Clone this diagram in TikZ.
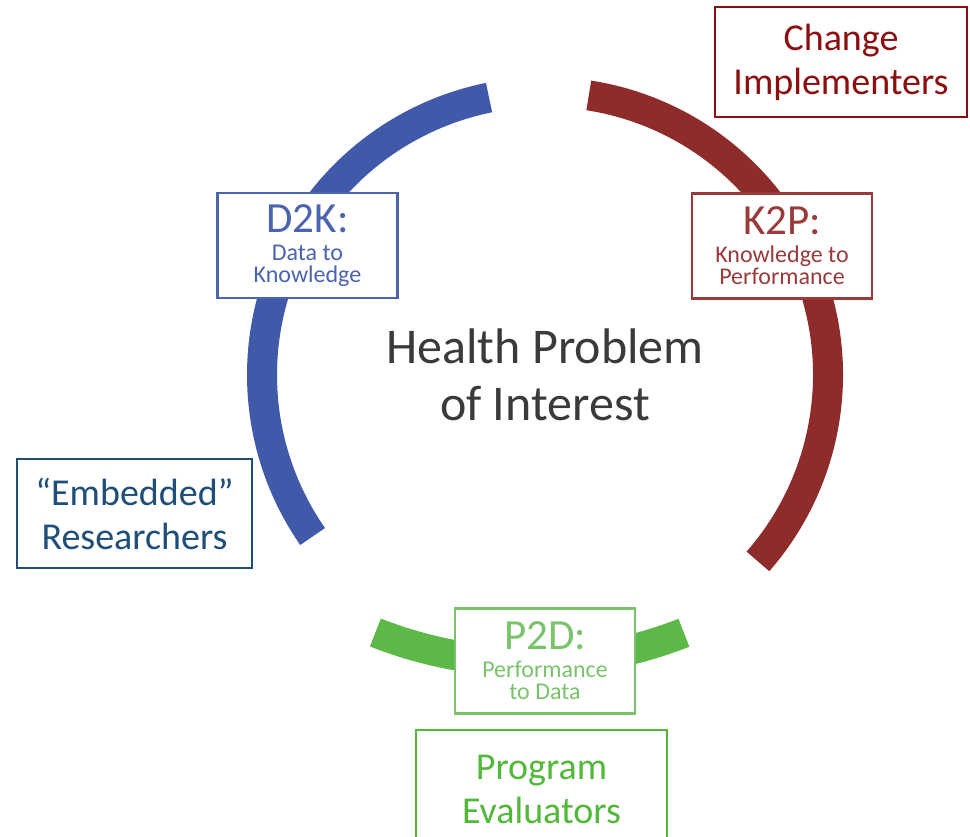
\documentclass[tikz,border=0pt]{standalone}
\usepackage{fontspec}
\setmainfont{Carlito}
\usetikzlibrary{positioning, calc}
\definecolor{arcBlue}{HTML}{4059A9}
\definecolor{arcRed}{HTML}{8E2B2B}
\definecolor{arcGreen}{HTML}{5CB947}
\definecolor{boxBlue}{HTML}{4A64AE}
\definecolor{boxRed}{HTML}{9A3B3B}
\definecolor{boxGreen}{HTML}{79C46A}
\definecolor{resBlue}{HTML}{1F4E79}
\definecolor{chgRed}{HTML}{8C0F0F}
\definecolor{prgGreen}{HTML}{52B83A}
\definecolor{hpGray}{HTML}{3A3A3A}
\tikzset{
    Ring/.style = {line width=30pt, draw=#1},
    InBox/.style = {
        draw=#1, text=#1, fill=white, line width=2.2pt,
        align=center, inner sep=0pt,
        minimum width=180pt, minimum height=105pt,
        font=\fontsize{24}{22}\selectfont
    },
    OutBox/.style = {
        draw=#1, text=#1, fill=white, line width=1.4pt,
        align=center, inner sep=0pt,
        font=\fontsize{38}{44}\selectfont
    }
}

\begin{document}
\begin{tikzpicture}[x=1pt, y=1pt]
    \useasboundingbox (0,0) rectangle (970,-837);
    \coordinate (C) at (545,-375);
    \coordinate (G) at (530,-242);
    % the three arcs of the cycle
    \draw [Ring=arcBlue] ([shift={(101.4:283)}]C) arc [start angle=101.4, end angle=214.8, radius=283];
    \draw [Ring=arcRed] ([shift={(81.1:283)}]C) arc [start angle=81.1, end angle=-41.2, radius=283];
    \draw [Ring=arcGreen] ([shift={(-111.6:420)}]G) arc [start angle=-111.6, end angle=-68.5, radius=420];

    \node[font=\fontsize{50}{57}\selectfont, text=hpGray, align=center] (HP) at (C) {Health Problem\\of Interest};

    \node[InBox=boxBlue] (D2K) at (307.5,-245.5) {{\fontsize{43}{22}\selectfont D2K:}\\[6pt]Data to\\Knowledge};
    \node[InBox=boxRed] (K2P) at (782,-246) {{\fontsize{43}{22}\selectfont K2P:}\\[6pt]Knowledge to\\Performance};
    \node[InBox=boxGreen] (P2D) at (545,-661) {{\fontsize{43}{22}\selectfont P2D:}\\[6pt]Performance\\to Data};

    \node[OutBox=resBlue, minimum width=235pt, minimum height=109pt] (ER) at (134.5,-513.5) {“Embedded”\\Researchers};
    \node[OutBox=chgRed, minimum width=252pt, minimum height=110pt] (CI) at (841,-62) {Change\\Implementers};
    \node[OutBox=prgGreen, minimum width=251pt, minimum height=118pt] (PE) at (541.5,-789) {Program\\Evaluators};
\end{tikzpicture}
\end{document}
